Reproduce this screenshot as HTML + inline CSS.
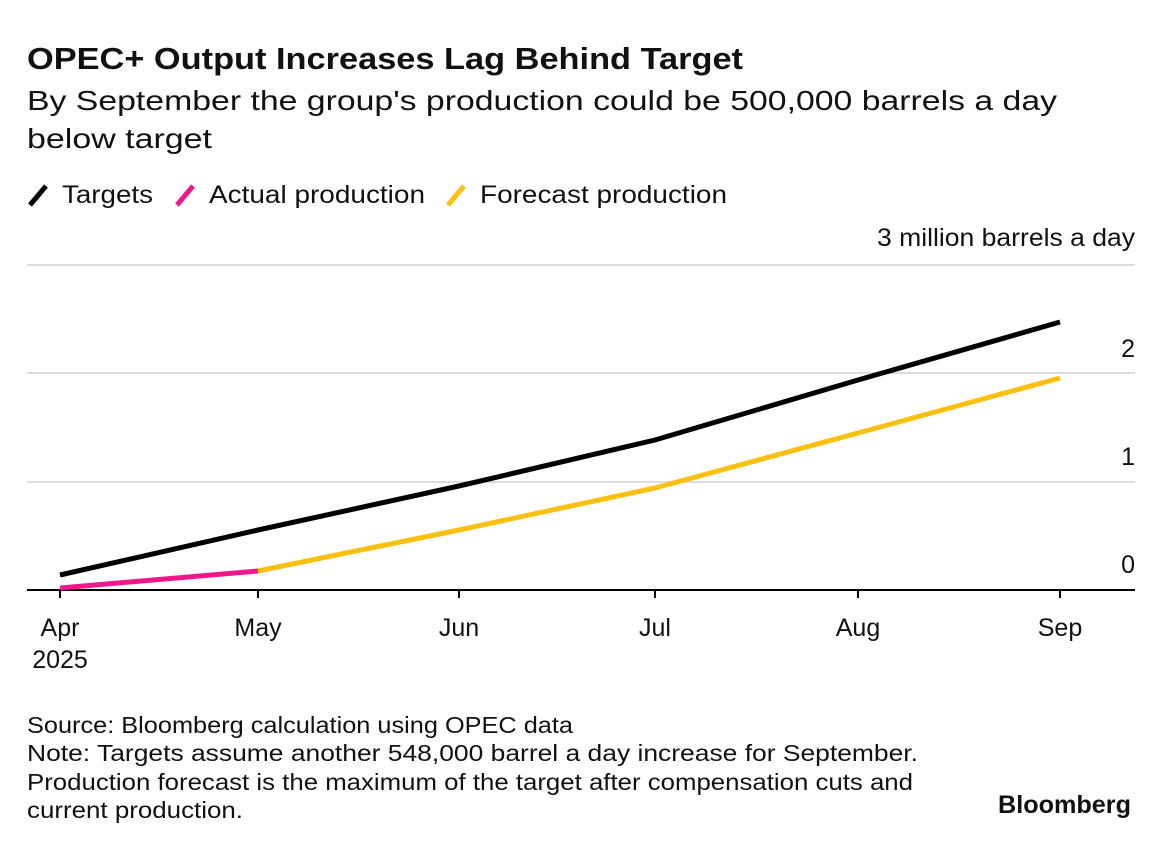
<!DOCTYPE html>
<html><head><meta charset="utf-8"><style>
body{margin:0;background:#fff;}
svg text{font-family:"Liberation Sans",sans-serif;fill:#111;}
</style></head><body>
<svg width="1168" height="848" viewBox="0 0 1168 848" xmlns="http://www.w3.org/2000/svg">
<rect width="1168" height="848" fill="#fff"/>
<text x="27" y="69" font-size="31" font-weight="bold" textLength="716" lengthAdjust="spacingAndGlyphs">OPEC+ Output Increases Lag Behind Target</text>
<text x="27" y="110" font-size="28" textLength="1030" lengthAdjust="spacingAndGlyphs">By September the group's production could be 500,000 barrels a day</text>
<text x="27" y="148" font-size="28" textLength="185" lengthAdjust="spacingAndGlyphs">below target</text>
<line x1="30" y1="205" x2="46" y2="186" stroke="#000" stroke-width="5"/>
<text x="62" y="203" font-size="25" textLength="91" lengthAdjust="spacingAndGlyphs">Targets</text>
<line x1="177" y1="205" x2="193" y2="186" stroke="#f0168c" stroke-width="5"/>
<text x="209" y="203" font-size="25" textLength="216" lengthAdjust="spacingAndGlyphs">Actual production</text>
<line x1="448" y1="205" x2="464" y2="186" stroke="#fcc10f" stroke-width="5"/>
<text x="480" y="203" font-size="25" textLength="247" lengthAdjust="spacingAndGlyphs">Forecast production</text>
<text x="877" y="246" font-size="25" textLength="258" lengthAdjust="spacingAndGlyphs">3 million barrels a day</text>
<g stroke="#ddd" stroke-width="2">
<line x1="27" y1="265" x2="1135" y2="265"/>
<line x1="27" y1="373" x2="1135" y2="373"/>
<line x1="27" y1="482" x2="1135" y2="482"/>
</g>
<text x="1135" y="357" font-size="25" text-anchor="end">2</text>
<text x="1135" y="465" font-size="25" text-anchor="end">1</text>
<text x="1135" y="573" font-size="25" text-anchor="end">0</text>
<line x1="27" y1="590" x2="1135" y2="590" stroke="#000" stroke-width="2"/>
<g stroke="#000" stroke-width="2">
<line x1="60" y1="590" x2="60" y2="598"/><line x1="258" y1="590" x2="258" y2="598"/>
<line x1="459" y1="590" x2="459" y2="598"/><line x1="655" y1="590" x2="655" y2="598"/>
<line x1="858" y1="590" x2="858" y2="598"/><line x1="1060" y1="590" x2="1060" y2="598"/>
</g>
<g font-size="25" text-anchor="middle">
<text x="60" y="636">Apr</text><text x="60" y="668">2025</text>
<text x="258" y="636">May</text><text x="459" y="636">Jun</text>
<text x="655" y="636">Jul</text><text x="858" y="636">Aug</text><text x="1060" y="636">Sep</text>
</g>
<polyline points="258,571 459,530 655,488 858,433 1060,378" fill="none" stroke="#fcc10f" stroke-width="5" stroke-linejoin="round"/>
<polyline points="60,588 258,571" fill="none" stroke="#f0168c" stroke-width="5"/>
<polyline points="60,575 258,530 459,486 655,440 858,380 1060,322" fill="none" stroke="#000" stroke-width="5" stroke-linejoin="round"/>
<g font-size="23">
<text x="27" y="733" textLength="546" lengthAdjust="spacingAndGlyphs">Source: Bloomberg calculation using OPEC data</text>
<text x="27" y="761" textLength="891" lengthAdjust="spacingAndGlyphs">Note: Targets assume another 548,000 barrel a day increase for September.</text>
<text x="27" y="790" textLength="886" lengthAdjust="spacingAndGlyphs">Production forecast is the maximum of the target after compensation cuts and</text>
<text x="27" y="818" textLength="216" lengthAdjust="spacingAndGlyphs">current production.</text>
</g>
<text x="998" y="813" font-size="25" font-weight="bold" textLength="133" lengthAdjust="spacingAndGlyphs">Bloomberg</text>
</svg>
</body></html>
